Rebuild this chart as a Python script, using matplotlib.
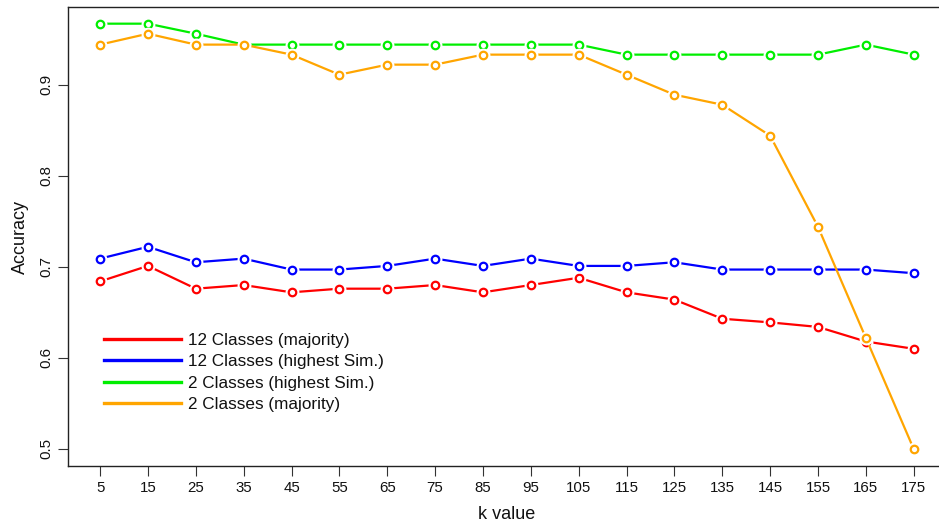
import matplotlib
matplotlib.use("Agg")
import matplotlib.pyplot as plt

k_values = [5, 15, 25, 35, 45, 55, 65, 75, 85, 95, 105, 115, 125, 135, 145, 155, 165, 175]
acc_12_majority = [0.684, 0.701, 0.676, 0.680, 0.672, 0.676, 0.676, 0.680, 0.672, 0.680,
                   0.688, 0.672, 0.664, 0.643, 0.639, 0.634, 0.618, 0.610]
acc_12_highest = [0.709, 0.722, 0.705, 0.709, 0.697, 0.697, 0.701, 0.709, 0.701, 0.709,
                  0.701, 0.701, 0.705, 0.697, 0.697, 0.697, 0.697, 0.693]
acc_2_highest = [0.967, 0.967, 0.956, 0.944, 0.944, 0.944, 0.944, 0.944, 0.944, 0.944,
                 0.944, 0.933, 0.933, 0.933, 0.933, 0.933, 0.944, 0.933]
acc_2_majority = [0.944, 0.956, 0.944, 0.944, 0.933, 0.911, 0.922, 0.922, 0.933, 0.933,
                  0.933, 0.911, 0.889, 0.878, 0.844, 0.744, 0.622, 0.500]

series = [
    ("12 Classes (majority)", acc_12_majority, "#FF0000"),
    ("12 Classes (highest Sim.)", acc_12_highest, "#0000FF"),
    ("2 Classes (highest Sim.)", acc_2_highest, "#00EE00"),
    ("2 Classes (majority)", acc_2_majority, "#FFA500"),
]
y_ticks = [0.5, 0.6, 0.7, 0.8, 0.9]

plt.rcParams['font.family'] = ['Liberation Sans', 'DejaVu Sans']
FS = 10.8

fig = plt.figure(figsize=(9.39, 5.23), dpi=100)
ax = fig.add_axes([0.0719, 0.1090, 0.9358, 0.8776])

handles = []
for i, (label, vals, col) in enumerate(series):
    z = 2 + i * 3
    ax.plot(k_values, vals, color=col, lw=1.6, zorder=z, solid_capstyle='butt')
    ax.plot(k_values, vals, linestyle='none', marker='o', markersize=9,
            markerfacecolor='white', markeredgecolor='white', zorder=z + 1)
    ax.plot(k_values, vals, linestyle='none', marker='o', markersize=5.4,
            markerfacecolor='white', markeredgecolor=col, markeredgewidth=1.6, zorder=z + 2)
    h, = ax.plot([], [], color=col, lw=2.4, label=label)
    handles.append(h)

ax.set_xlim(-1.8, 181.8)
ax.set_ylim(0.4813, 0.9853)
ax.set_xticks(k_values)
ax.set_xticklabels([str(k) for k in k_values], fontsize=FS)
ax.set_yticks(y_ticks)
ax.set_yticklabels([f"{t:.1f}" for t in y_ticks], fontsize=FS, rotation=90, va='center')
ax.tick_params(axis='both', length=7, width=0.8, color='#333333', labelcolor='#111111')
ax.tick_params(axis='x', pad=4)
ax.tick_params(axis='y', pad=3)
for s in ax.spines.values():
    s.set_linewidth(1.0)
    s.set_color('#222222')

ax.set_xlabel("k value", fontsize=13, labelpad=7.5, color='#111111')
ax.set_ylabel("Accuracy", fontsize=13, labelpad=8, color='#111111')

leg = ax.legend(handles=handles, loc='upper left', bbox_to_anchor=(0.0415, 0.2905),
                frameon=False, fontsize=12.3, handlelength=4.5, handletextpad=0.4,
                labelspacing=0.385, borderpad=0, borderaxespad=0)
for t in leg.get_texts():
    t.set_color('#111111')

fig.savefig("out.png", dpi=100)
